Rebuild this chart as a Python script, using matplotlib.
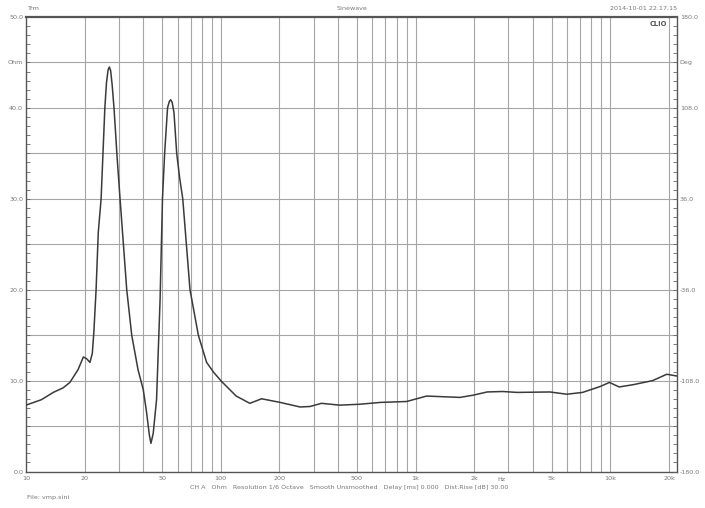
import numpy as np
import matplotlib
matplotlib.use("Agg")
import matplotlib.pyplot as plt
from matplotlib.ticker import FixedLocator, NullFormatter
import matplotlib.transforms as mtransforms

# impedance curve (Hz, Ohm)
freq = [10, 12.0, 13.8, 15.5, 16.8, 18.5, 19.7, 20.5, 21.3, 21.9, 22.3, 22.9, 23.5, 24.3, 25.4,
        25.9, 26.4, 26.8, 27.2, 27.7, 28.3, 29.4, 30.4, 32.9, 34.9, 37.6, 40.0, 41.6, 43.0, 43.8,
        45.0, 46.8, 48.8, 50.2, 51.5, 53.3, 54.4, 55.3, 56.3, 57.5, 59.4, 61.5, 63.8, 69.5, 76.7,
        84.6, 92, 101, 120, 141, 162, 202, 255, 287, 329, 408, 518, 658, 900, 1140, 1690, 1980,
        2330, 2800, 3330, 4900, 5980, 7200, 8870, 9900, 11100, 13100, 16500, 19500, 22000]
ohm = [7.3, 7.9, 8.7, 9.2, 9.8, 11.2, 12.6, 12.4, 12.0, 13.0, 15.3, 20.0, 26.3, 30.0, 40.0,
       42.8, 44.2, 44.5, 44.1, 42.5, 40.0, 34.4, 30.0, 20.0, 15.0, 11.2, 9.0, 6.5, 4.0, 3.1,
       4.2, 7.9, 18.9, 30.0, 35.0, 40.0, 40.7, 40.9, 40.6, 39.5, 35.0, 32.3, 30.0, 20.0, 15.0,
       12.0, 10.9, 9.9, 8.3, 7.5, 8.0, 7.6, 7.1, 7.15, 7.5, 7.3, 7.4, 7.6, 7.7, 8.3, 8.15, 8.4,
       8.75, 8.8, 8.7, 8.75, 8.5, 8.7, 9.35, 9.8, 9.3, 9.55, 10.0, 10.7, 10.5]

grid_freqs = [20, 30, 40, 50, 60, 70, 80, 90, 100, 200, 300, 400, 500, 600, 700, 800, 900,
              1000, 2000, 3000, 4000, 5000, 6000, 7000, 8000, 9000, 10000, 20000]
x_tick_vals = [10, 20, 50, 100, 200, 500, 1000, 2000, 5000, 10000, 20000]
x_tick_txt = ["10", "20", "50", "100", "200", "500", "1k", "2k", "5k", "10k", "20k"]
y_left_vals = [0, 10, 20, 30, 40, 45, 50]
y_left_txt = ["0.0", "10.0", "20.0", "30.0", "40.0", "Ohm", "50.0"]
y_right_vals = [-180, -108, -36, 36, 108, 144, 180]
y_right_txt = ["-180.0", "-108.0", "-36.0", "36.0", "108.0", "Deg", "180.0"]

txt_col = "#777777"
fs = 4.6

fig = plt.figure(figsize=(7.05, 5.08), dpi=100)
ax = fig.add_axes([26 / 705, 36.5 / 508, 651 / 705, 454.5 / 508])

ax.plot(freq, ohm, color="#3a3a3a", lw=1.1, zorder=3)

ax.set_xscale("log")
ax.set_xlim(10, 22000)
ax.set_ylim(0, 50)

# grid
for f in grid_freqs:
    ax.axvline(f, color="#a5a5a5", lw=0.8, zorder=1)
for v in range(5, 50, 5):
    ax.axhline(v, color="#a5a5a5", lw=0.8, zorder=1)

ax.xaxis.set_major_locator(FixedLocator(x_tick_vals))
ax.set_xticklabels(x_tick_txt)
ax.xaxis.set_minor_locator(FixedLocator([]))
ax.xaxis.set_minor_formatter(NullFormatter())
ax.tick_params(axis="x", length=0, labelsize=fs, labelcolor=txt_col, pad=3)

ax.yaxis.set_major_locator(FixedLocator(y_left_vals))
ax.set_yticklabels(y_left_txt)
ax.yaxis.set_minor_locator(FixedLocator(list(range(0, 51))))
ax.tick_params(axis="y", which="both", direction="in", length=3, width=0.6,
               color="#666666", labelsize=fs, labelcolor=txt_col, pad=2)

for s in ax.spines.values():
    s.set_color("#555555")
    s.set_linewidth(1.0)
ax.spines["top"].set_linewidth(1.6)

ax2 = ax.twinx()
ax2.set_ylim(-180, 180)
ax2.yaxis.set_major_locator(FixedLocator(y_right_vals))
ax2.set_yticklabels(y_right_txt)
ax2.yaxis.set_minor_locator(FixedLocator([-180 + 7.2 * i for i in range(51)]))
ax2.tick_params(axis="y", which="both", direction="in", length=3, width=0.6,
                color="#666666", labelsize=fs, labelcolor=txt_col, pad=2)
for s in ax2.spines.values():
    s.set_visible(False)

# "Hz" label on the frequency axis
trans = mtransforms.blended_transform_factory(ax.transData, ax.transAxes)
ax.text(2750, -0.012, "Hz", transform=trans, ha="center", va="top", fontsize=fs, color=txt_col)

ax.text(0.985, 0.992, "CLIO", transform=ax.transAxes, ha="right", va="top",
        fontsize=4.8, fontweight="bold", color="#555555")

fig.text(33 / 705, 1 - 9 / 508, "Trm", ha="center", va="center", fontsize=fs, color=txt_col)
fig.text(352 / 705, 1 - 9 / 508, "Sinewave", ha="center", va="center", fontsize=fs, color=txt_col)
fig.text(677 / 705, 1 - 9 / 508, "2014-10-01 22.17.15", ha="right", va="center",
         fontsize=fs, color=txt_col)
fig.text(349 / 705, 1 - 488 / 508,
         "CH A   Ohm   Resolution 1/6 Octave   Smooth Unsmoothed   Delay [ms] 0.000   Dist.Rise [dB] 30.00",
         ha="center", va="center", fontsize=fs, color=txt_col)
fig.text(27 / 705, 1 - 497 / 508, "File: vmp.sini", ha="left", va="center",
         fontsize=fs, color=txt_col)

fig.savefig("out.png", dpi=100, facecolor="white")
